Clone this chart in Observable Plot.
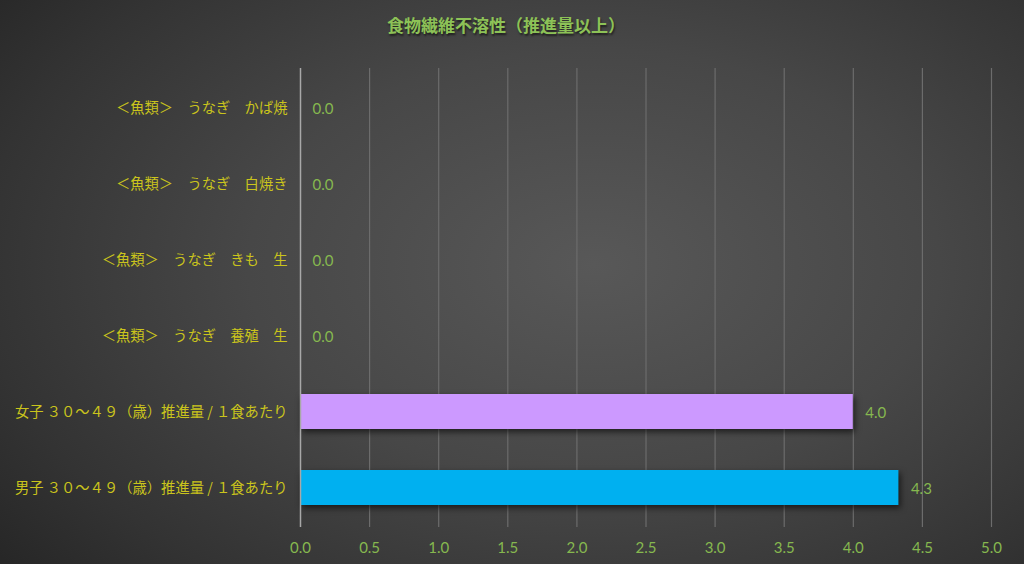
<!DOCTYPE html>
<html><head><meta charset="utf-8">
<script src="https://cdn.jsdelivr.net/npm/d3@7"></script>
<script src="https://cdn.jsdelivr.net/npm/@observablehq/plot@0.6"></script>
<style>
html,body{margin:0;padding:0;}
#wrap{position:relative;width:1024px;height:564px;overflow:hidden;
 background:radial-gradient(ellipse 75% 85% at 58% 47%, #585858 0%, #474747 45%, #333333 80%, #262626 100%);}
#title{position:absolute;left:-6px;width:1024px;top:12px;text-align:center;font-family:"Noto Sans CJK JP";font-weight:bold;font-size:17px;color:#8dc257;text-shadow:1px 2px 2px rgba(0,0,0,0.55);}
#chart{position:absolute;left:0;top:0;}
</style></head>
<body><div id="wrap"><div id="title">食物繊維不溶性（推進量以上）</div><div id="chart"></div></div>
<script>
const titleText = "食物繊維不溶性（推進量以上）";
const categories = [
  "＜魚類＞　うなぎ　かば焼",
  "＜魚類＞　うなぎ　白焼き",
  "＜魚類＞　うなぎ　きも　生",
  "＜魚類＞　うなぎ　養殖　生",
  "女子 ３０～４９（歳）推進量 / １食あたり",
  "男子 ３０～４９（歳）推進量 / １食あたり"
];
const values = [0, 0, 0, 0, 4.0, 4.33];
const barColors = ["#4472c4", "#4472c4", "#4472c4", "#4472c4", "#cc99ff", "#00b0f0"];
const xTicks = [0, 0.5, 1, 1.5, 2, 2.5, 3, 3.5, 4, 4.5, 5];

const data = categories.map((c, i) => ({name: c, value: values[i], color: barColors[i]}));

const plot = Plot.plot({
  width: 1024,
  height: 564,
  marginLeft: 300,
  marginRight: 33,
  marginTop: 68,
  marginBottom: 37,
  style: {background: "transparent", overflow: "visible"},
  x: {domain: [0, 5], ticks: xTicks, tickFormat: d3.format(".1f"), label: null},
  y: {domain: categories, paddingInner: 0.54, paddingOuter: 0.27, label: null},
  marks: [
    Plot.gridX(xTicks.filter(t => t > 0), {stroke: "#6c6c6c", strokeOpacity: 1, strokeWidth: 1.2}),
    Plot.barX(data, {y: "name", x: "value", fill: "color"}),
    Plot.ruleX([0], {stroke: "#a8a8a8", strokeWidth: 1.5}),
    Plot.text(data, {y: "name", x: "value", text: d => d3.format(".1f")(d.value), dx: 12, dy: 1, textAnchor: "start", fill: "#86b84f", fontSize: 15, fontFamily: "Lato"}),
    Plot.axisX({ticks: xTicks, tickFormat: d3.format(".1f"), tickSize: 0, tickPadding: 15, color: "#86b84f", fontSize: 15, fontFamily: "Lato", label: null}),
    Plot.axisY({tickSize: 0, tickPadding: 13, color: "#cac41c", fontSize: 14.3, fontFamily: "Noto Sans CJK JP", label: null})
  ]
});
document.getElementById("chart").appendChild(plot);
d3.select(plot).selectAll("g[aria-label='bar'] rect")
  .style("filter", "drop-shadow(2px 3px 3px rgba(0,0,0,0.6))");
</script>
</body></html>
